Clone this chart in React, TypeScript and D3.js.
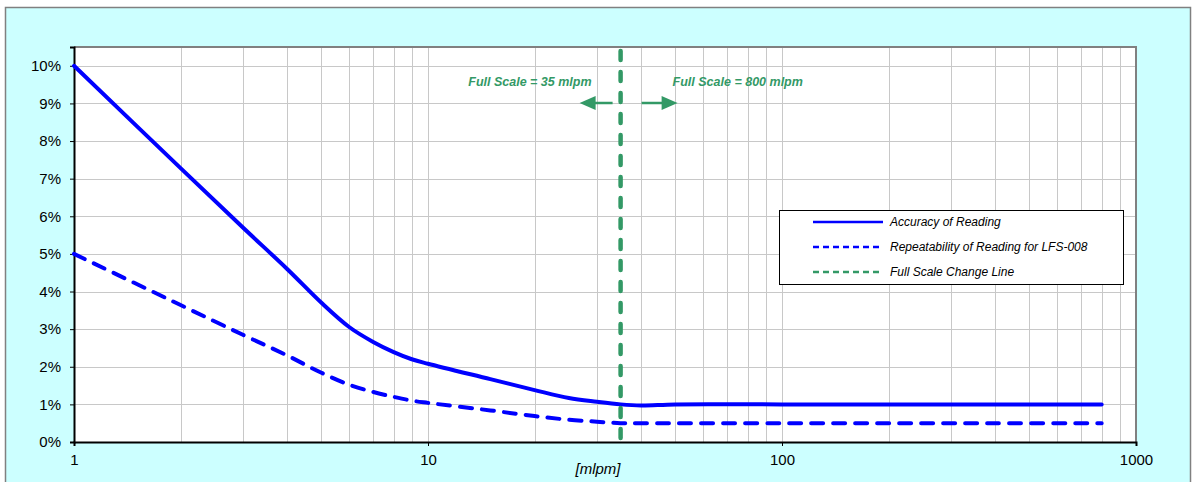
import * as d3 from 'd3';
import React, { useRef, useEffect } from 'react';

// flow values in mlpm
const flows = [1, 2, 3, 4, 5, 6, 7, 8, 9, 10, 15, 20, 25, 30, 35, 40, 50, 100, 200, 400, 800];
// accuracy of reading, %
const accuracy = [10, 7.28, 5.7, 4.6, 3.7, 3.05, 2.66, 2.39, 2.2, 2.08, 1.67, 1.38, 1.17, 1.07, 1.0, 0.97, 1.0, 1.0, 1.0, 1.0, 1.0];
// repeatability of reading for LFS-008, %
const repeatability = [5, 3.64, 2.85, 2.3, 1.84, 1.52, 1.33, 1.2, 1.1, 1.04, 0.84, 0.69, 0.59, 0.54, 0.5, 0.5, 0.5, 0.5, 0.5, 0.5, 0.5];
const fullScaleChange = 35;
const yTicks = [0, 1, 2, 3, 4, 5, 6, 7, 8, 9, 10];
const xLabels = [1, 10, 100, 1000];
const legendItems = ['Accuracy of Reading', 'Repeatability of Reading for LFS-008', 'Full Scale Change Line'];

const W = 1192;
const H = 482;
const left = 74, right = 1136, top = 47, bottom = 442;
const font = '"Liberation Sans", Arial, sans-serif';
const blue = '#0000ff';
const green = '#339966';

export default function App() {
  const svgRef = useRef<SVGSVGElement>(null);

  useEffect(() => {
    const svg = d3.select(svgRef.current);
    svg.selectAll('*').remove();

    const x = d3.scaleLog().domain([1, 1000]).range([left, right]);
    const y = d3.scaleLinear().domain([0, 10.5]).range([bottom, top]);

    // background and frame
    svg.append('rect').attr('x', 5.5).attr('y', 7.5).attr('width', 1185).attr('height', 480)
      .attr('fill', '#ccffff').attr('stroke', '#808080').attr('stroke-width', 1.5);
    svg.append('rect').attr('x', left).attr('y', top).attr('width', right - left).attr('height', bottom - top)
      .attr('fill', '#ffffff');

    // gridlines
    const grid = svg.append('g').attr('stroke', '#c8c8c8').attr('stroke-width', 1);
    x.ticks().filter(t => t > 1 && t < 1000).forEach(t => {
      grid.append('line').attr('x1', Math.round(x(t)) + 0.5).attr('x2', Math.round(x(t)) + 0.5)
        .attr('y1', top).attr('y2', bottom);
    });
    yTicks.filter(t => t > 0).forEach(t => {
      grid.append('line').attr('x1', left).attr('x2', right)
        .attr('y1', Math.round(y(t)) + 0.5).attr('y2', Math.round(y(t)) + 0.5);
    });

    // plot frame top/right
    svg.append('path').attr('d', `M${left},${top}H${right}V${bottom}`)
      .attr('fill', 'none').attr('stroke', '#808080').attr('stroke-width', 2);

    // axes
    const yAxis = d3.axisLeft(y).tickValues(yTicks).tickSize(4).tickFormat(d => `${d}%`);
    const ya = svg.append('g').attr('transform', `translate(${left},0)`).call(yAxis);
    ya.select('.domain').attr('stroke', '#000').attr('stroke-width', 2);
    ya.selectAll('.tick line').attr('stroke', '#000');
    ya.selectAll('text').attr('font-family', font).attr('font-size', 15).attr('fill', '#000').attr('dx', -6);

    const xAxis = d3.axisBottom(x).tickValues(xLabels).tickSize(4).tickFormat(d => `${d}`);
    const xa = svg.append('g').attr('transform', `translate(0,${bottom})`).call(xAxis);
    xa.select('.domain').attr('stroke', '#000').attr('stroke-width', 2);
    xa.selectAll('.tick line').attr('stroke', '#000');
    xa.selectAll('text').attr('font-family', font).attr('font-size', 15).attr('fill', '#000').attr('dy', '1.05em');

    svg.append('text').attr('x', 598).attr('y', 474).attr('text-anchor', 'middle')
      .attr('font-family', font).attr('font-size', 15).attr('font-style', 'italic').text('[mlpm]');

    // series
    const line = d3.line<number>()
      .x((_, i) => x(flows[i]))
      .y(d => y(d))
      .curve(d3.curveCatmullRom.alpha(0.5));

    svg.append('path').attr('d', line(accuracy)).attr('fill', 'none')
      .attr('stroke', blue).attr('stroke-width', 4).attr('stroke-linecap', 'round');
    svg.append('path').attr('d', line(repeatability)).attr('fill', 'none')
      .attr('stroke', blue).attr('stroke-width', 4).attr('stroke-linecap', 'round')
      .attr('stroke-dasharray', '12 10');

    // full scale change line
    const fx = x(fullScaleChange);
    svg.append('line').attr('x1', fx).attr('x2', fx).attr('y1', top + 4).attr('y2', bottom)
      .attr('stroke', green).attr('stroke-width', 4.5).attr('stroke-linecap', 'round')
      .attr('stroke-dasharray', '9 12');

    // annotations
    const ann = svg.append('g').attr('font-family', font).attr('font-size', 12.5)
      .attr('font-weight', 'bold').attr('font-style', 'italic').attr('fill', green);
    ann.append('text').attr('x', fx - 29).attr('y', 86).attr('text-anchor', 'end').text('Full Scale = 35 mlpm');
    ann.append('text').attr('x', fx + 52).attr('y', 86).text('Full Scale = 800 mlpm');

    const ay = 103;
    svg.append('line').attr('x1', fx - 8).attr('x2', fx - 26).attr('y1', ay).attr('y2', ay)
      .attr('stroke', green).attr('stroke-width', 2.5);
    svg.append('path').attr('d', `M${fx - 41},${ay}L${fx - 25},${ay - 7}L${fx - 25},${ay + 7}Z`).attr('fill', green);
    svg.append('line').attr('x1', fx + 21).attr('x2', fx + 42).attr('y1', ay).attr('y2', ay)
      .attr('stroke', green).attr('stroke-width', 2.5);
    svg.append('path').attr('d', `M${fx + 57},${ay}L${fx + 41},${ay - 7}L${fx + 41},${ay + 7}Z`).attr('fill', green);

    // legend
    const lg = svg.append('g').attr('transform', 'translate(779,210)');
    lg.append('rect').attr('x', 0.5).attr('y', 0.5).attr('width', 344).attr('height', 74)
      .attr('fill', '#ffffff').attr('stroke', '#000').attr('stroke-width', 1);
    const styles = [
      { color: blue, dash: null },
      { color: blue, dash: '6 4' },
      { color: green, dash: '6 4' },
    ];
    legendItems.forEach((label, i) => {
      const ly = 12 + i * 25;
      const l = lg.append('line').attr('x1', 34).attr('x2', 104).attr('y1', ly).attr('y2', ly)
        .attr('stroke', styles[i].color).attr('stroke-width', 2.5);
      if (styles[i].dash) l.attr('stroke-dasharray', styles[i].dash);
      lg.append('text').attr('x', 111).attr('y', ly + 4).attr('font-family', font).attr('font-size', 12)
        .attr('font-style', 'italic').attr('fill', '#000').text(label);
    });
  }, []);

  return (
    <div>
      <style>{'body{margin:0}'}</style>
      <svg ref={svgRef} width={W} height={H} style={{ display: 'block' }} />
    </div>
  );
}
